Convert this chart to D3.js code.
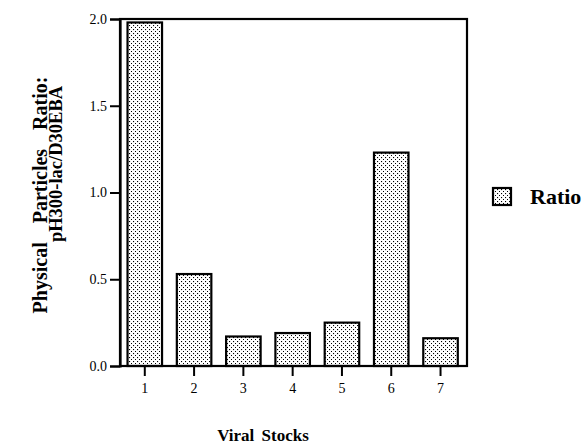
<!DOCTYPE html>
<html><head><meta charset="utf-8">
<script src="https://cdn.jsdelivr.net/npm/d3@7"></script>
<style>body{margin:0;background:#fff}svg{display:block}text{font-family:"Liberation Serif","Times New Roman",serif;fill:#000}</style>
</head><body>
<script>
const categories = ["1","2","3","4","5","6","7"];
const ratioValues = [1.98, 0.53, 0.17, 0.19, 0.25, 1.23, 0.16];
const yTicks = [0, 0.5, 1.0, 1.5, 2.0];
const seriesName = "Ratio";
const xTitle = "Viral Stocks";
const yTitle1 = "Physical Particles Ratio:";
const yTitle2 = "pH300-lac/D30EBA";

const W = 585, H = 448;
const m = {left:120, right:118, top:19, bottom:82};
const svg = d3.select("body").append("svg").attr("width",W).attr("height",H);
const defs = svg.append("defs");
const pat = defs.append("pattern").attr("id","dots").attr("patternUnits","userSpaceOnUse")
  .attr("width",4).attr("height",4);
pat.append("rect").attr("width",4).attr("height",4).attr("fill","#fff");
pat.append("rect").attr("x",1).attr("y",1).attr("width",1.1).attr("height",1.1).attr("fill","#000");
pat.append("rect").attr("x",3).attr("y",3).attr("width",1.1).attr("height",1.1).attr("fill","#000");

const x = d3.scaleBand().domain(categories).range([m.left, W-m.right])
  .paddingInner(0.3).paddingOuter(0.17).align(0.45);
const y = d3.scaleLinear().domain([0,2]).range([H-m.bottom, m.top]);

// bars
svg.append("g").selectAll("rect").data(ratioValues).join("rect")
  .attr("x",(d,i)=>x(categories[i])).attr("width",x.bandwidth())
  .attr("y",d=>y(d)).attr("height",d=>y(0)-y(d))
  .attr("fill","url(#dots)").attr("stroke","#000").attr("stroke-width",2.2);

// frame
svg.append("rect").attr("x",m.left).attr("y",m.top).attr("width",W-m.right-m.left).attr("height",y(0)-m.top)
  .attr("fill","none").attr("stroke","#000").attr("stroke-width",2.2);

// y axis
const ya = svg.append("g").attr("transform",`translate(${m.left},0)`)
  .call(d3.axisLeft(y).tickValues(yTicks).tickFormat(d3.format(".1f")).tickSize(10).tickPadding(3));
ya.select(".domain").attr("stroke-width",2.2);
ya.selectAll(".tick line").attr("stroke-width",2);
ya.selectAll("text").attr("font-size",14);

// x axis
const xa = svg.append("g").attr("transform",`translate(0,${y(0)})`)
  .call(d3.axisBottom(x).tickSize(10).tickPadding(7));
xa.select(".domain").remove();
xa.selectAll(".tick line").attr("stroke-width",2);
xa.selectAll("text").attr("font-size",14);

// titles
svg.append("text").attr("x",263).attr("y",441).attr("text-anchor","middle")
  .attr("font-size",17).attr("font-weight","bold").attr("word-spacing",3).text(xTitle);
svg.append("text").attr("transform",`translate(47,195) rotate(-90)`).attr("text-anchor","middle")
  .attr("font-size",20).attr("font-weight","bold").attr("word-spacing",14).text(yTitle1);
svg.append("text").attr("transform",`translate(62,164) rotate(-90)`).attr("text-anchor","middle")
  .attr("font-size",18.5).attr("font-weight","bold").text(yTitle2);

// legend
svg.append("rect").attr("x",493).attr("y",188).attr("width",18).attr("height",17)
  .attr("fill","url(#dots)").attr("stroke","#000").attr("stroke-width",2.2);
svg.append("text").attr("x",530).attr("y",204).attr("font-size",22).attr("font-weight","bold").text(seriesName);
</script>
</body></html>
